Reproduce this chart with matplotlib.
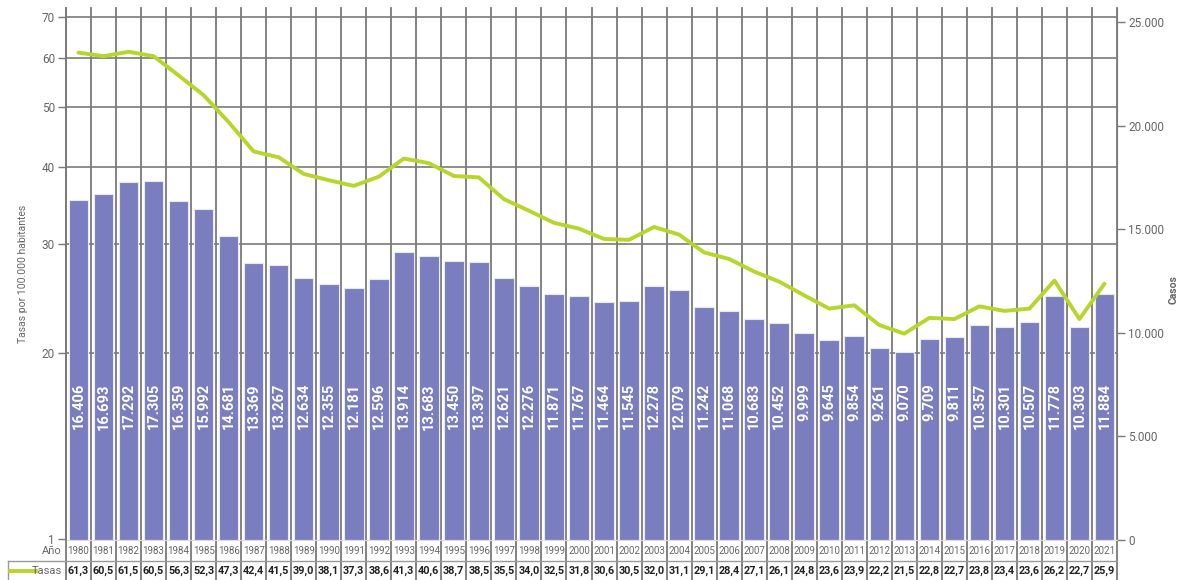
import numpy as np
import matplotlib
matplotlib.use("Agg")
from matplotlib import pyplot as plt
from matplotlib.lines import Line2D
from matplotlib.transforms import blended_transform_factory

plt.rcParams['font.family'] = ['Roboto', 'DejaVu Sans']

#data
years = list(range(1980, 2022))
casos = [16406, 16693, 17292, 17305, 16359, 15992, 14681, 13369, 13267, 12634,
         12355, 12181, 12596, 13914, 13683, 13450, 13397, 12621, 12276, 11871,
         11767, 11464, 11545, 12278, 12079, 11242, 11068, 10683, 10452, 9999,
         9645, 9854, 9261, 9070, 9709, 9811, 10357, 10301, 10507, 11778,
         10303, 11884]
tasas = [61.3, 60.5, 61.5, 60.5, 56.3, 52.3, 47.3, 42.4, 41.5, 39.0,
         38.1, 37.3, 38.6, 41.3, 40.6, 38.7, 38.5, 35.5, 34.0, 32.5,
         31.8, 30.6, 30.5, 32.0, 31.1, 29.1, 28.4, 27.1, 26.1, 24.8,
         23.6, 23.9, 22.2, 21.5, 22.8, 22.7, 23.8, 23.4, 23.6, 26.2,
         22.7, 25.9]
left_ticks = [10, 20, 30, 40, 50, 60, 70]
left_tick_labels = ["1", "20", "30", "40", "50", "60", "70"]
right_ticks = [0, 5000, 10000, 15000, 20000, 25000]

bar_color = "#7a7ebf"
line_color = "#b7d62c"
grid_color = "#7a7a7a"
text_grey = "#666666"

fig = plt.figure(figsize=(11.84, 5.8), dpi=100)
#bars axis (right side) is the base, line axis (left, log) goes on top
ax_bar = fig.add_axes([66/1184, 40/580, 1051/1184, 532/580])
ax_line = ax_bar.twinx()

x = np.arange(len(years))
ax_bar.set_xlim(-0.5, len(years) - 0.5)
ax_bar.set_ylim(0, 25676)
ax_line.set_yscale("log")
ax_line.set_ylim(9.96, 72.4)

#horizontal grid at the log ticks, drawn under the bars
hline_tr = blended_transform_factory(ax_bar.transAxes, ax_line.transData)
for v in left_ticks[1:]:
    ax_bar.add_line(Line2D([0, 1], [v, v], transform=hline_tr, color=grid_color,
                           lw=1.2, zorder=0))

#vertical grid at category edges, extended down through the table
vline_tr = blended_transform_factory(ax_bar.transData, ax_bar.transAxes)
for b in np.arange(-0.5, len(years), 1.0):
    ax_bar.add_line(Line2D([b, b], [-0.08, 1], transform=vline_tr, color=grid_color,
                           lw=1.3, zorder=0, clip_on=False))

ax_bar.bar(x, casos, width=0.78, color=bar_color, edgecolor="#e8e8f0",
           linewidth=0.8, zorder=2)

for xi, c in zip(x, casos):
    ax_bar.text(xi, 0.295, f"{c:,}".replace(",", "."), transform=vline_tr,
                rotation=90, ha="center", va="top", color="white",
                fontsize=10.5, fontweight="bold", zorder=3)

ax_line.plot(x, tasas, color=line_color, lw=2.8, solid_capstyle="round", zorder=4)

#axis sides: cases on the right, rates on the left
ax_bar.yaxis.tick_right()
ax_line.yaxis.tick_left()
ax_line.yaxis.set_label_position("left")

ax_bar.set_yticks(right_ticks)
ax_bar.set_yticklabels([f"{t:,}".replace(",", ".") for t in right_ticks])
ax_line.set_yticks(left_ticks)
ax_line.set_yticklabels(left_tick_labels)
ax_line.yaxis.set_minor_locator(matplotlib.ticker.NullLocator())
ax_bar.set_xticks([])

for a in (ax_bar, ax_line):
    a.tick_params(axis="y", colors=grid_color, labelcolor=text_grey, labelsize=8.5,
                  length=6, width=1, pad=2)
    for s in ("top", "left", "right", "bottom"):
        a.spines[s].set_visible(False)
ax_line.spines["left"].set_visible(True)
ax_line.spines["left"].set_color(grid_color)
ax_line.spines["left"].set_linewidth(1.3)
ax_bar.spines["right"].set_visible(True)
ax_bar.spines["right"].set_color(grid_color)
ax_bar.spines["right"].set_bounds(0, 25676)
ax_bar.spines["bottom"].set_visible(True)
ax_bar.spines["bottom"].set_color("#dddddd")

ax_line.set_ylabel("Tasas por 100.000 habitantes", color=text_grey, fontsize=7.5,
                   labelpad=10)
fig.text(1174/1184, 0.5, "Casos", color=text_grey, fontsize=7.5, fontweight="bold",
         rotation=90, ha="center", va="center")

#table rows below the plot
row_tr = vline_tr
for xi, yr in zip(x, years):
    ax_bar.text(xi, -0.0207, str(yr), transform=row_tr, ha="center", va="center",
                fontsize=7, color=text_grey)
for xi, t in zip(x, tasas):
    ax_bar.text(xi, -0.058, f"{t:.1f}".replace(".", ","), transform=row_tr,
                ha="center", va="center", fontsize=7.8, fontweight="bold",
                color="#222222")

ax_bar.add_line(Line2D([-0.0552, 1], [-0.0395, -0.0395], transform=ax_bar.transAxes,
                       color="#999999", lw=1, clip_on=False))
ax_bar.add_line(Line2D([-0.0552, -0.0552], [-0.0395, -0.08], transform=ax_bar.transAxes,
                       color="#999999", lw=1, clip_on=False))
ax_bar.text(-0.0038, -0.0207, "Año", transform=ax_bar.transAxes, ha="right",
            va="center", fontsize=8, color=text_grey)
ax_bar.text(-0.0038, -0.058, "Tasas", transform=ax_bar.transAxes, ha="right",
            va="center", fontsize=8, color=text_grey)
ax_bar.add_line(Line2D([-0.0533, -0.0285], [-0.058, -0.058], transform=ax_bar.transAxes,
                       color=line_color, lw=2.8, clip_on=False))

fig.savefig("out.png", dpi=100)
